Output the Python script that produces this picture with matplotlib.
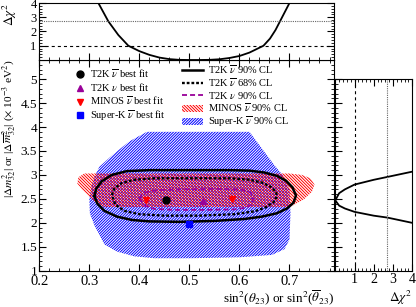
import numpy as np
import matplotlib.pyplot as plt
import matplotlib.patches as mpatches
from matplotlib.lines import Line2D
from matplotlib.ticker import MultipleLocator

plt.rcParams['font.family'] = ['Liberation Serif', 'DejaVu Serif']
plt.rcParams['mathtext.fontset'] = 'stix'
plt.rcParams['hatch.linewidth'] = 0.7
plt.rcParams['lines.scale_dashes'] = False

# T2K anti-nu 90% CL contour
sol_x = [0.310, 0.314, 0.325, 0.345, 0.375, 0.42, 0.50, 0.58, 0.62, 0.65, 0.675, 0.693, 0.706, 0.713,
         0.708, 0.695, 0.675, 0.645, 0.61, 0.55, 0.48, 0.42, 0.385, 0.355, 0.33, 0.316, 0.310]
sol_y = [2.56, 2.72, 2.87, 3.00, 3.08, 3.10, 3.10, 3.10, 3.09, 3.05, 2.98, 2.88, 2.74, 2.57,
         2.42, 2.30, 2.20, 2.13, 2.08, 2.04, 2.02, 2.03, 2.06, 2.13, 2.25, 2.40, 2.56]
# T2K anti-nu 68% CL contour
d68_x = [0.345, 0.350, 0.365, 0.39, 0.43, 0.50, 0.58, 0.62, 0.645, 0.663, 0.673, 0.675, 0.668,
         0.652, 0.63, 0.59, 0.52, 0.45, 0.40, 0.37, 0.352, 0.345]
d68_y = [2.58, 2.72, 2.83, 2.90, 2.93, 2.93, 2.93, 2.90, 2.84, 2.75, 2.65, 2.55, 2.43,
         2.32, 2.24, 2.18, 2.15, 2.15, 2.18, 2.25, 2.38, 2.58]
# T2K nu 90% CL contour
nu_x = [0.400, 0.405, 0.42, 0.45, 0.50, 0.56, 0.60, 0.618, 0.627, 0.627, 0.615, 0.59, 0.53, 0.47,
        0.43, 0.41, 0.400]
nu_y = [2.50, 2.60, 2.66, 2.69, 2.70, 2.71, 2.70, 2.66, 2.58, 2.40, 2.32, 2.28, 2.27, 2.27,
        2.29, 2.36, 2.50]
# MINOS anti-nu 90% CL region
mn_x = [0.290, 0.40, 0.55, 0.70, 0.725, 0.742, 0.750, 0.745, 0.73, 0.71, 0.70, 0.55, 0.40, 0.33,
        0.315, 0.30, 0.285, 0.276, 0.278]
mn_y = [3.03, 3.03, 3.03, 3.03, 3.00, 2.93, 2.80, 2.65, 2.50, 2.38, 2.33, 2.33, 2.33, 2.33,
        2.40, 2.55, 2.70, 2.82, 2.95]
# Super-K anti-nu 90% CL region
sk_x = [0.320, 0.35, 0.38, 0.415, 0.50, 0.62, 0.645, 0.67, 0.69, 0.70, 0.702, 0.70, 0.69, 0.665,
        0.60, 0.50, 0.43, 0.39, 0.355, 0.33, 0.31, 0.301, 0.300, 0.305, 0.312]
sk_y = [3.17, 3.45, 3.70, 3.90, 3.90, 3.90, 3.55, 3.20, 2.95, 2.70, 2.20, 1.65, 1.45, 1.33,
        1.28, 1.26, 1.26, 1.30, 1.40, 1.55, 1.95, 2.20, 2.50, 2.80, 3.00]

# best fit points
t2k_bar_bf = (0.453, 2.48)
t2k_nu_bf = (0.527, 2.46)
minos_bf_x = [0.413, 0.586]
minos_bf_y = [2.48, 2.49]
sk_bf = (0.500, 1.97)

# 1D profiles
prof_s2 = [0.300, 0.318, 0.338, 0.358, 0.378, 0.40, 0.42, 0.44, 0.46, 0.48, 0.50, 0.52, 0.54,
           0.56, 0.58, 0.60, 0.62, 0.648, 0.661, 0.672, 0.681, 0.700, 0.710]
prof_s2_chi = [5.1, 4.0, 2.71, 1.75, 1.0, 0.62, 0.36, 0.17, 0.06, 0.01, 0.0, 0.0, 0.01,
               0.05, 0.14, 0.28, 0.52, 1.0, 1.5, 2.1, 2.71, 4.0, 4.7]
prof_dm = [1.95, 2.00, 2.11, 2.15, 2.23, 2.30, 2.36, 2.47, 2.62, 2.70, 2.80, 2.90, 2.96, 3.07, 3.12]
prof_dm_chi = [4.6, 4.0, 2.71, 2.0, 1.0, 0.5, 0.2, 0.0, 0.2, 0.5, 1.0, 2.0, 2.71, 4.0, 4.6]

purple = '#990099'
hatch_sk = '/' * 12
hatch_mn = '\\' * 11

fig = plt.figure(figsize=(4.16, 3.07), dpi=100)
ax = fig.add_axes([0.0945, 0.1182, 0.7084, 0.6864])
axt = fig.add_axes([0.0945, 0.8046, 0.7084, 0.1856])
axr = fig.add_axes([0.806, 0.1182, 0.185, 0.6235])

# main panel
ax.fill(sk_x, sk_y, facecolor='none', edgecolor='blue', hatch=hatch_sk, lw=0)
ax.fill(mn_x, mn_y, facecolor='none', edgecolor='red', hatch=hatch_mn, lw=0)
ax.plot(nu_x, nu_y, color=purple, lw=1.3, dashes=(3.6, 2.2))
ax.plot(d68_x, d68_y, color='k', lw=1.7, dashes=(2.0, 1.4))
ax.plot(sol_x, sol_y, color='k', lw=1.8)
ax.plot(*t2k_bar_bf, 'o', color='k', ms=5)
ax.plot(*t2k_nu_bf, '^', color=purple, ms=5)
ax.plot(minos_bf_x, minos_bf_y, 'v', color='red', ms=5, ls='none')
ax.plot(*sk_bf, 's', color='blue', ms=4.8)

ax.set_xlim(0.2, 0.789)
ax.set_ylim(1, 5.4)
ax.xaxis.set_minor_locator(MultipleLocator(0.02))
ax.yaxis.set_minor_locator(MultipleLocator(0.1))
ax.set_xticks([0.2, 0.3, 0.4, 0.5, 0.6, 0.7])
ax.set_xticklabels(['0.2', '0.3', '0.4', '0.5', '0.6', '0.7'])
ax.set_yticks([1, 1.5, 2, 2.5, 3, 3.5, 4, 4.5, 5])
ax.set_yticklabels(['1', '1.5', '2', '2.5', '3', '3.5', '4', '4.5', '5'])
ax.tick_params(which='both', direction='in', top=True, right=True)
ax.tick_params(axis='x', labelsize=10.5, pad=3)
ax.tick_params(axis='y', labelsize=9.5, pad=1.5)
ax.tick_params(which='major', length=5)
ax.tick_params(which='minor', length=2.5)
ax.set_xlabel(r'sin$^2$($\theta_{23}$) or sin$^2$($\overline{\theta}_{23}$)', fontsize=9.5, loc='right')
ax.xaxis.set_label_coords(1.0, -0.085)
ax.set_ylabel(r'|$\Delta m^2_{32}$| or |$\Delta\overline{m}^2_{32}$| ($\times$ 10$^{-3}$ eV$^2$)',
              fontsize=8.2, loc='top')
ax.yaxis.set_label_coords(-0.068, 1.0)

h1 = [Line2D([], [], marker='o', color='k', ls='none', ms=5),
      Line2D([], [], marker='^', color=purple, ls='none', ms=5),
      Line2D([], [], marker='v', color='red', ls='none', ms=5),
      Line2D([], [], marker='s', color='blue', ls='none', ms=4.8)]
l1 = [r'T2K $\overline{\nu}$ best fit', r'T2K $\nu$ best fit',
      r'MINOS $\overline{\nu}$ best fit', r'Super-K $\overline{\nu}$ best fit']
leg1 = ax.legend(h1, l1, loc='upper left', bbox_to_anchor=(0.125, 0.965), frameon=False,
                 fontsize=7.5, handlelength=0.8, handletextpad=0.55, labelspacing=0.12,
                 borderpad=0, borderaxespad=0)
ax.add_artist(leg1)

h2 = [Line2D([], [], color='k', lw=1.8),
      Line2D([], [], color='k', lw=1.7, dashes=(2.0, 1.4)),
      Line2D([], [], color=purple, lw=1.3, dashes=(3.6, 2.2)),
      mpatches.Patch(facecolor='none', edgecolor='red', hatch=hatch_mn, lw=0),
      mpatches.Patch(facecolor='none', edgecolor='blue', hatch=hatch_sk, lw=0)]
l2 = [r'T2K $\overline{\nu}$ 90% CL', r'T2K $\overline{\nu}$ 68% CL', r'T2K $\nu$ 90% CL',
      r'MINOS $\overline{\nu}$ 90% CL', r'Super-K $\overline{\nu}$ 90% CL']
ax.legend(h2, l2, loc='upper left', bbox_to_anchor=(0.485, 0.985), frameon=False,
          fontsize=7.5, handlelength=2.0, handletextpad=0.5, labelspacing=0.05,
          borderpad=0, borderaxespad=0)

# top panel
axt.plot(prof_s2, prof_s2_chi, color='k', lw=1.3)
axt.axhline(1, color='k', lw=0.8, dashes=(2.2, 2.2))
axt.axhline(2.71, color='0.4', lw=0.8, dashes=(0.8, 0.8))
axt.set_xlim(0.2, 0.789)
axt.set_ylim(0, 4)
axt.xaxis.set_major_locator(MultipleLocator(0.1))
axt.xaxis.set_minor_locator(MultipleLocator(0.02))
axt.set_yticks([1, 2, 3, 4])
axt.yaxis.set_minor_locator(MultipleLocator(0.2))
axt.tick_params(which='both', direction='in', right=True, labelbottom=False, labelsize=9, pad=2)
axt.tick_params(which='major', length=5)
axt.tick_params(which='minor', length=2.5)
axt.set_ylabel(r'$\Delta\chi^2$', fontsize=9.5, loc='top')
axt.yaxis.set_label_coords(-0.068, 1.0)

# right panel
axr.plot(prof_dm_chi, prof_dm, color='k', lw=1.3)
axr.axvline(1, color='k', lw=0.8, dashes=(2.2, 2.2))
axr.axvline(2.71, color='0.4', lw=0.8, dashes=(0.8, 0.8))
axr.set_xlim(0, 4)
axr.set_ylim(1, 5)
axr.set_xticks([1, 2, 3, 4])
axr.xaxis.set_minor_locator(MultipleLocator(0.2))
axr.yaxis.set_major_locator(MultipleLocator(0.5))
axr.yaxis.set_minor_locator(MultipleLocator(0.1))
axr.tick_params(which='both', direction='in', top=True, labelleft=False, labelsize=10, pad=2)
axr.tick_params(which='major', length=5)
axr.tick_params(which='minor', length=2.5)
axr.set_xlabel(r'$\Delta\chi^2$', fontsize=9.5, loc='right')
axr.xaxis.set_label_coords(1.0, -0.095)

fig.savefig('out.png', dpi=100)
